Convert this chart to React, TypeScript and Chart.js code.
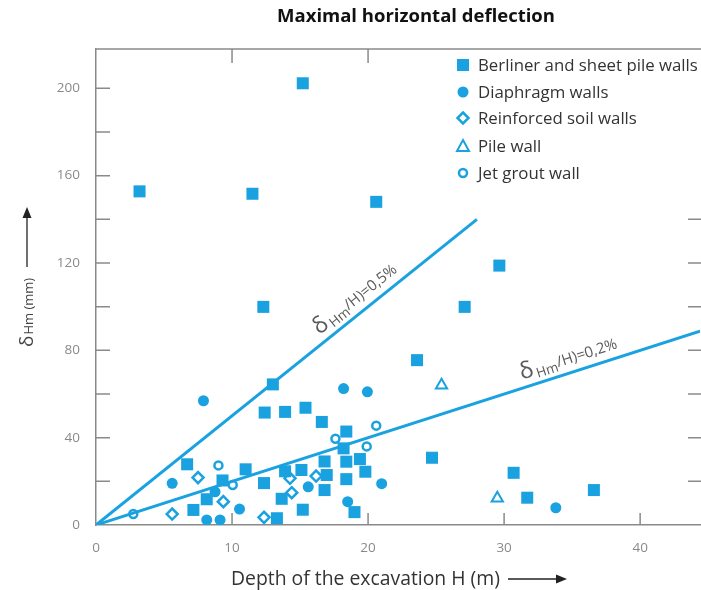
import React, { useEffect, useRef } from 'react';
import { Chart, registerables } from 'chart.js';

Chart.register(...registerables);

// ---------- data ----------
const xTickValues = [0, 10, 20, 30, 40];
const yTickValues = [0, 40, 80, 120, 160, 200];
const yMinorTicks = [20, 40, 60, 80, 100, 120, 140, 160, 180, 200];

// [H (m), deflection (mm)]
const berlinerWalls: number[][] = [
  [15.2, 202.3], [3.2, 152.8], [11.5, 151.7], [20.6, 148.0], [29.65, 118.8],
  [12.3, 99.9], [27.1, 99.9], [23.6, 75.5], [13.0, 64.4], [15.4, 53.7],
  [12.4, 51.5], [13.9, 51.8], [16.6, 47.2], [18.4, 42.8], [18.2, 35.1],
  [24.7, 30.8], [19.4, 30.2], [16.8, 29.1], [18.4, 29.0], [6.7, 27.8],
  [11.0, 25.5], [13.9, 24.6], [15.1, 25.2], [19.8, 24.4], [30.7, 23.9],
  [16.96, 22.9], [18.4, 21.0], [9.3, 20.4], [12.35, 19.2], [16.8, 16.0],
  [36.6, 16.0], [13.65, 12.0], [31.7, 12.5], [8.14, 11.8], [7.16, 6.9],
  [15.2, 7.0], [19.0, 5.9], [13.3, 3.1],
];
const diaphragmWalls: number[][] = [
  [7.9, 56.9], [18.2, 62.5], [19.95, 61.0], [5.6, 19.1], [8.75, 15.2],
  [10.55, 7.3], [8.14, 2.3], [9.12, 2.3], [15.6, 17.5], [21.0, 18.9],
  [18.5, 10.7], [33.8, 7.9],
];
const reinforcedSoilWalls: number[][] = [
  [7.5, 21.7], [9.36, 10.7], [5.6, 5.0], [12.35, 3.5], [14.26, 21.4],
  [16.18, 22.4], [14.39, 14.8],
];
const pileWalls: number[][] = [[25.4, 64.0], [29.5, 12.2]];
const jetGroutWalls: number[][] = [
  [2.74, 5.0], [9.0, 27.3], [10.05, 18.3], [17.6, 39.5], [19.9, 36.0], [20.6, 45.5],
];
// reference ratio lines delta/H
const ratioHigh = 0.5; // %
const ratioLow = 0.2; // %
const ratioHighEnd = 28; // m
const xMax = 44.4;
const yMax = 218;

const BLUE = '#1aa2e0';

const toPts = (a: number[][]) => a.map(([x, y]) => ({ x, y }));

const legendItems = [
  { label: 'Berliner and sheet pile walls', kind: 'square' },
  { label: 'Diaphragm walls', kind: 'circle' },
  { label: 'Reinforced soil walls', kind: 'diamond' },
  { label: 'Pile wall', kind: 'triangle' },
  { label: 'Jet grout wall', kind: 'ring' },
];

function fitFont(ctx: CanvasRenderingContext2D, text: string, target: number, weight: string) {
  ctx.font = `${weight} 20px "Open Sans"`;
  const w = ctx.measureText(text).width;
  const size = (20 * target) / w;
  return `${weight} ${size.toFixed(2)}px "Open Sans"`;
}

function drawMarker(ctx: CanvasRenderingContext2D, kind: string, x: number, y: number) {
  ctx.save();
  ctx.fillStyle = BLUE;
  ctx.strokeStyle = BLUE;
  ctx.lineWidth = 2.5;
  ctx.beginPath();
  if (kind === 'square') {
    ctx.fillRect(x - 6, y - 6, 12, 12);
  } else if (kind === 'circle') {
    ctx.arc(x, y, 5.5, 0, Math.PI * 2);
    ctx.fill();
  } else if (kind === 'diamond') {
    ctx.moveTo(x, y - 5.5);
    ctx.lineTo(x + 5.5, y);
    ctx.lineTo(x, y + 5.5);
    ctx.lineTo(x - 5.5, y);
    ctx.closePath();
    ctx.stroke();
  } else if (kind === 'triangle') {
    ctx.lineWidth = 2;
    ctx.moveTo(x, y - 6);
    ctx.lineTo(x + 6, y + 5);
    ctx.lineTo(x - 6, y + 5);
    ctx.closePath();
    ctx.stroke();
  } else if (kind === 'ring') {
    ctx.arc(x, y, 4, 0, Math.PI * 2);
    ctx.stroke();
  }
  ctx.restore();
}

const decorPlugin = {
  id: 'decor',
  afterDraw(chart: any) {
    const ctx: CanvasRenderingContext2D = chart.ctx;
    const xs = chart.scales.x;
    const ys = chart.scales.y;
    const a = chart.chartArea;
    ctx.save();
    // top border
    ctx.strokeStyle = '#8a8a8a';
    ctx.lineWidth = 1.5;
    ctx.beginPath();
    ctx.moveTo(a.left, a.top);
    ctx.lineTo(a.right + 1, a.top);
    ctx.stroke();
    // inward ticks
    ctx.beginPath();
    yMinorTicks.forEach((v) => {
      const y = ys.getPixelForValue(v);
      ctx.moveTo(a.left, y);
      ctx.lineTo(a.left + 14, y);
    });
    yMinorTicks.filter((v) => v <= 140).forEach((v) => {
      const y = ys.getPixelForValue(v);
      ctx.moveTo(a.right - 12, y);
      ctx.lineTo(a.right + 1, y);
    });
    xTickValues.filter((v) => v > 0).forEach((v) => {
      const x = xs.getPixelForValue(v);
      ctx.moveTo(x, a.bottom);
      ctx.lineTo(x, a.bottom - 12);
    });
    xTickValues.filter((v) => v > 0 && v <= 20).forEach((v) => {
      const x = xs.getPixelForValue(v);
      ctx.moveTo(x, a.top);
      ctx.lineTo(x, a.top + 14);
    });
    ctx.stroke();

    // ratio line labels
    const lineLabel = (H0: number, pct: number, txt: string) => {
      const p0x = xs.getPixelForValue(H0);
      const p0y = ys.getPixelForValue(H0 * 10 * pct);
      const p1x = xs.getPixelForValue(H0 + 1);
      const p1y = ys.getPixelForValue((H0 + 1) * 10 * pct);
      const ang = Math.atan2(p1y - p0y, p1x - p0x);
      ctx.save();
      ctx.translate(p0x, p0y);
      ctx.rotate(ang);
      ctx.fillStyle = '#5a5a5a';
      ctx.textBaseline = 'alphabetic';
      ctx.textAlign = 'left';
      ctx.font = '23px "Open Sans"';
      ctx.fillText('δ', 0, -8);
      let off = ctx.measureText('δ').width + 2;
      ctx.font = '13.5px "Open Sans"';
      ctx.fillText('Hm', off, -5);
      off += ctx.measureText('Hm').width;
      ctx.font = '15px "Open Sans"';
      ctx.fillText(txt, off, -9);
      ctx.restore();
    };
    lineLabel(16.8, ratioHigh, '/H)=0,5%');
    lineLabel(31.5, ratioLow, '/H)=0,2%');

    // legend
    const lx = 463;
    const ly = [65, 92, 118, 146, 173];
    ctx.fillStyle = '#fff';
    ctx.fillRect(450, 52, 250, 135);
    const legendFont = fitFont(ctx, legendItems[0].label, 220, 'normal');
    legendItems.forEach((it, i) => {
      drawMarker(ctx, it.kind, lx, ly[i]);
      ctx.fillStyle = '#333';
      ctx.font = legendFont;
      ctx.textAlign = 'left';
      ctx.textBaseline = 'middle';
      ctx.fillText(it.label, 478, ly[i] + 1);
    });

    // title
    const title = 'Maximal horizontal deflection';
    ctx.fillStyle = '#111';
    ctx.font = fitFont(ctx, title, 278, 'bold');
    ctx.textAlign = 'center';
    ctx.textBaseline = 'middle';
    ctx.fillText(title, 416, 17);

    // x axis title + arrow
    const xTitle = 'Depth of the excavation H (m)';
    ctx.fillStyle = '#333';
    ctx.font = fitFont(ctx, xTitle, 269, 'normal');
    ctx.textAlign = 'left';
    ctx.fillText(xTitle, 231, 579);
    ctx.strokeStyle = '#222';
    ctx.lineWidth = 1.3;
    ctx.beginPath();
    ctx.moveTo(508, 579);
    ctx.lineTo(558, 579);
    ctx.stroke();
    ctx.fillStyle = '#222';
    ctx.beginPath();
    ctx.moveTo(567, 579);
    ctx.lineTo(556, 574.5);
    ctx.lineTo(556, 583.5);
    ctx.closePath();
    ctx.fill();

    // y axis title + arrow
    ctx.save();
    ctx.translate(28, 347);
    ctx.rotate(-Math.PI / 2);
    ctx.fillStyle = '#444';
    ctx.textAlign = 'left';
    ctx.textBaseline = 'middle';
    ctx.font = '19px "Open Sans"';
    ctx.fillText('δ', 0, 0);
    const dw = ctx.measureText('δ').width;
    ctx.font = '13px "Open Sans"';
    ctx.fillText('Hm (mm)', dw + 1, 1);
    ctx.restore();
    ctx.strokeStyle = '#222';
    ctx.beginPath();
    ctx.moveTo(27, 267);
    ctx.lineTo(27, 217);
    ctx.stroke();
    ctx.fillStyle = '#222';
    ctx.beginPath();
    ctx.moveTo(27, 207);
    ctx.lineTo(22.5, 218);
    ctx.lineTo(31.5, 218);
    ctx.closePath();
    ctx.fill();

    ctx.restore();
  },
};

export default function App() {
  const ref = useRef<HTMLCanvasElement | null>(null);
  useEffect(() => {
    if (!ref.current) return;
    const chart = new Chart(ref.current, {
      type: 'scatter',
      data: {
        datasets: [
          {
            type: 'line',
            label: 'ratio 0.5',
            data: [{ x: 0, y: 0 }, { x: ratioHighEnd, y: ratioHighEnd * 10 * ratioHigh }],
            borderColor: BLUE,
            borderWidth: 3,
            pointRadius: 0,
            fill: false,
          } as any,
          {
            type: 'line',
            label: 'ratio 0.2',
            data: [{ x: 0, y: 0 }, { x: xMax, y: xMax * 10 * ratioLow }],
            borderColor: BLUE,
            borderWidth: 3,
            pointRadius: 0,
            fill: false,
          } as any,
          {
            label: 'Berliner and sheet pile walls',
            data: toPts(berlinerWalls),
            pointStyle: 'rect',
            pointRadius: 8.5,
            backgroundColor: BLUE,
            borderColor: BLUE,
            borderWidth: 0,
          },
          {
            label: 'Diaphragm walls',
            data: toPts(diaphragmWalls),
            pointStyle: 'circle',
            pointRadius: 5.5,
            backgroundColor: BLUE,
            borderColor: BLUE,
            borderWidth: 0,
          },
          {
            label: 'Reinforced soil walls',
            data: toPts(reinforcedSoilWalls),
            pointStyle: 'rectRot',
            pointRadius: 5.5,
            backgroundColor: '#fff',
            borderColor: BLUE,
            borderWidth: 2.5,
          },
          {
            label: 'Pile wall',
            data: toPts(pileWalls),
            pointStyle: 'triangle',
            pointRadius: 6.5,
            backgroundColor: '#fff',
            borderColor: BLUE,
            borderWidth: 2,
          },
          {
            label: 'Jet grout wall',
            data: toPts(jetGroutWalls),
            pointStyle: 'circle',
            pointRadius: 4,
            backgroundColor: '#fff',
            borderColor: BLUE,
            borderWidth: 2.5,
          },
        ],
      },
      options: {
        responsive: false,
        animation: false,
        devicePixelRatio: 1,
        layout: { autoPadding: false, padding: { left: 0, top: 49, right: 1, bottom: 0 } },
        plugins: {
          legend: { display: false },
          tooltip: { enabled: false },
          title: { display: false },
        },
        scales: {
          x: {
            type: 'linear',
            min: 0,
            max: xMax,
            grid: { display: false, drawTicks: false },
            border: { display: true, color: '#8a8a8a', width: 1.5 },
            ticks: {
              color: '#8a8a8a',
              font: { family: 'Open Sans', size: 13.5 },
              padding: 15,
            },
            afterBuildTicks: (s: any) => {
              s.ticks = xTickValues.map((v) => ({ value: v }));
            },
            afterFit: (s: any) => {
              s.height = 65;
              s.paddingLeft = 0;
              s.paddingRight = 0;
            },
          },
          y: {
            type: 'linear',
            min: 0,
            max: yMax,
            grid: { display: false, drawTicks: false },
            border: { display: true, color: '#8a8a8a', width: 1.5 },
            ticks: {
              color: '#8a8a8a',
              font: { family: 'Open Sans', size: 13.5 },
              padding: 16,
            },
            afterBuildTicks: (s: any) => {
              s.ticks = yTickValues.map((v) => ({ value: v }));
            },
            afterFit: (s: any) => {
              s.width = 96;
              s.paddingTop = 0;
              s.paddingBottom = 0;
            },
          },
        },
      },
      plugins: [decorPlugin],
    });
    return () => chart.destroy();
  }, []);
  return (
    <div style={{ position: 'absolute', left: 0, top: 0, width: 701, height: 590, background: '#fff' }}>
      <canvas ref={ref} width={701} height={590} />
    </div>
  );
}
